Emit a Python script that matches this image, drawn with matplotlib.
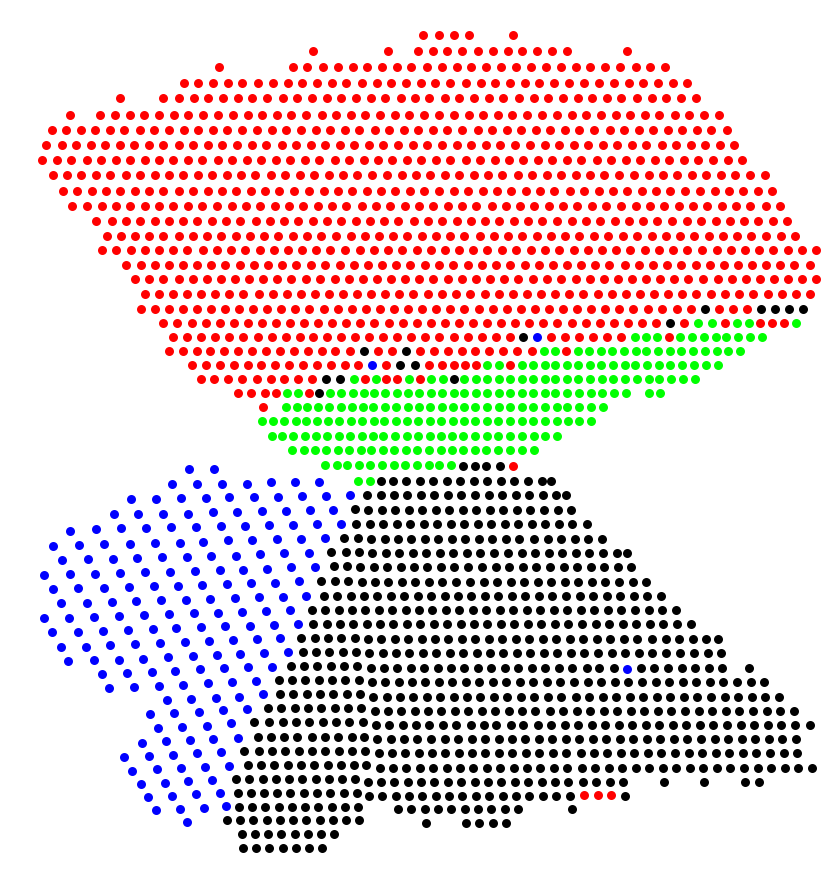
import matplotlib
matplotlib.use('Agg')
import matplotlib.pyplot as plt

# every row is (y, [x values])
red_rows = [
    (35, [423, 439, 454, 469, 513]),
    (51, [313, 388, 418, 433, 447, 462, 478, 493, 508, 522, 537, 552, 567, 627]),
    (67, [219, 293, 307, 323, 338, 353, 367, 382, 397, 411, 427, 442, 457, 471, 486, 501, 516, 531, 546, 561, 576, 590, 605, 620, 636, 650, 665]),
    (83, [184, 198, 213, 228, 242, 258, 273, 288, 302, 317, 332, 346, 362, 377, 391, 406, 421, 435, 450, 466, 481, 495, 510, 525, 539, 554, 569, 584, 599, 614, 629, 643, 658, 673, 687]),
    (98, [120, 163, 179, 194, 208, 223, 238, 252, 267, 283, 297, 312, 327, 341, 356, 371, 385, 401, 415, 429, 445, 459, 474, 489, 503, 519, 534, 548, 563, 578, 592, 607, 621, 637, 652, 666, 681, 696]),
    (115, [70, 100, 115, 130, 144, 159, 174, 188, 203, 218, 233, 248, 262, 277, 291, 306, 322, 336, 351, 365, 380, 395, 409, 424, 439, 454, 469, 483, 498, 512, 527, 542, 557, 572, 586, 601, 616, 630, 645, 659, 675, 689, 704, 719]),
    (130, [52, 66, 81, 95, 110, 124, 140, 154, 169, 184, 198, 213, 227, 242, 257, 272, 286, 301, 316, 330, 345, 359, 375, 389, 404, 418, 433, 447, 462, 478, 492, 507, 521, 536, 550, 565, 579, 594, 610, 624, 639, 653, 668, 682, 697, 711, 727]),
    (145, [46, 62, 76, 91, 105, 120, 134, 149, 163, 179, 193, 208, 222, 237, 252, 266, 282, 296, 311, 325, 340, 354, 369, 383, 398, 413, 427, 442, 457, 471, 486, 500, 515, 530, 545, 559, 574, 588, 603, 617, 632, 646, 662, 676, 691, 705, 720, 734]),
    (160, [42, 57, 71, 87, 101, 116, 130, 145, 159, 173, 188, 202, 218, 232, 247, 261, 276, 290, 305, 319, 335, 349, 364, 378, 392, 407, 421, 436, 450, 466, 480, 495, 509, 523, 538, 552, 567, 581, 597, 611, 626, 640, 655, 669, 684, 698, 713, 728, 742]),
    (175, [53, 67, 81, 96, 110, 126, 140, 155, 169, 183, 198, 212, 227, 241, 255, 271, 285, 300, 314, 329, 343, 357, 372, 387, 402, 416, 430, 445, 459, 474, 488, 502, 518, 532, 547, 561, 576, 590, 604, 619, 634, 649, 663, 677, 692, 706, 721, 735, 750, 765]),
    (191, [63, 77, 92, 106, 120, 135, 149, 163, 179, 193, 208, 222, 236, 251, 265, 279, 294, 309, 324, 338, 352, 367, 381, 395, 410, 424, 439, 454, 468, 483, 497, 511, 526, 540, 554, 570, 584, 599, 613, 627, 642, 656, 670, 685, 700, 715, 729, 743, 758, 772]),
    (206, [72, 87, 102, 116, 130, 145, 159, 173, 188, 202, 217, 232, 246, 260, 275, 289, 303, 318, 332, 346, 362, 376, 390, 405, 419, 433, 448, 462, 476, 492, 506, 520, 534, 549, 563, 577, 592, 606, 621, 636, 650, 664, 679, 693, 707, 722, 736, 750, 766, 780]),
    (221, [96, 112, 126, 140, 155, 169, 183, 197, 212, 226, 240, 256, 270, 284, 298, 313, 327, 341, 356, 370, 384, 398, 414, 428, 442, 457, 471, 485, 499, 514, 528, 542, 557, 572, 586, 600, 615, 629, 643, 657, 672, 687, 701, 716, 730, 744, 758, 773, 787]),
    (236, [107, 121, 135, 149, 163, 179, 193, 207, 221, 236, 250, 264, 278, 293, 307, 321, 336, 351, 365, 379, 393, 407, 422, 436, 450, 464, 480, 494, 508, 522, 537, 551, 565, 579, 594, 608, 623, 637, 652, 666, 680, 694, 709, 723, 737, 751, 766, 781, 795]),
    (250, [102, 116, 131, 145, 159, 173, 187, 203, 217, 231, 245, 260, 274, 288, 302, 316, 330, 345, 360, 374, 388, 402, 417, 431, 445, 459, 473, 487, 502, 516, 531, 545, 559, 574, 588, 602, 616, 630, 645, 659, 673, 687, 702, 717, 731, 745, 759, 773, 788, 802, 816]),
    (265, [126, 141, 155, 169, 183, 197, 211, 225, 240, 254, 268, 282, 296, 311, 325, 340, 354, 368, 382, 396, 410, 425, 439, 453, 468, 482, 496, 510, 525, 539, 553, 567, 581, 595, 609, 625, 639, 653, 667, 681, 696, 710, 724, 738, 752, 766, 780, 794, 810]),
    (279, [135, 149, 163, 179, 193, 207, 221, 235, 249, 263, 277, 291, 306, 320, 335, 349, 363, 377, 391, 405, 419, 433, 448, 462, 476, 490, 504, 518, 533, 547, 561, 576, 590, 604, 618, 632, 646, 660, 674, 688, 703, 718, 732, 746, 760, 774, 788, 802, 816]),
    (294, [145, 159, 173, 187, 201, 215, 229, 243, 259, 273, 287, 301, 315, 329, 343, 357, 371, 385, 399, 413, 428, 442, 456, 470, 485, 499, 513, 527, 541, 555, 569, 583, 598, 612, 626, 640, 654, 668, 682, 696, 711, 725, 739, 753, 768, 782, 796, 810]),
    (309, [141, 155, 169, 183, 197, 211, 225, 239, 253, 267, 281, 295, 309, 324, 338, 352, 366, 380, 394, 408, 422, 436, 450, 464, 479, 493, 507, 521, 535, 549, 563, 577, 591, 605, 619, 633, 648, 662, 677, 691, 719, 733, 747]),
    (323, [163, 177, 192, 206, 220, 234, 248, 262, 276, 290, 304, 318, 332, 346, 360, 374, 389, 403, 417, 431, 445, 459, 473, 487, 501, 515, 529, 543, 557, 572, 586, 600, 614, 628, 642, 656, 684, 725, 760, 772, 784]),
    (337, [173, 187, 201, 215, 229, 243, 258, 272, 286, 300, 313, 327, 341, 355, 369, 383, 397, 411, 425, 439, 454, 468, 482, 496, 510, 551, 565, 579, 593, 607, 621, 669]),
    (351, [169, 183, 197, 210, 224, 238, 252, 266, 280, 294, 308, 322, 335, 350, 378, 392, 420, 434, 448, 462, 475, 489, 503, 517, 532, 566]),
    (365, [192, 206, 220, 234, 248, 261, 275, 289, 303, 317, 331, 345, 358, 386, 429, 442, 454, 465, 476, 510]),
    (379, [201, 214, 228, 242, 257, 271, 284, 298, 312, 365, 386, 397, 420]),
    (393, [238, 251, 265, 276, 309]),
    (407, [263]),
    (466, [513]),
    (795, [584, 598, 611]),
]

green_rows = [
    (323, [698, 712, 737, 749, 796]),
    (337, [635, 646, 657, 680, 692, 704, 716, 726, 738, 750, 762]),
    (351, [544, 555, 578, 589, 601, 612, 624, 636, 646, 658, 670, 681, 693, 705, 717, 728, 740]),
    (365, [487, 499, 522, 533, 545, 555, 567, 578, 590, 601, 613, 625, 635, 647, 659, 670, 682, 694, 706, 718]),
    (379, [354, 376, 409, 431, 443, 464, 476, 487, 499, 510, 522, 533, 545, 555, 567, 578, 590, 602, 613, 625, 637, 649, 659, 671, 683, 695]),
    (393, [287, 298, 330, 341, 353, 364, 374, 385, 397, 408, 419, 431, 442, 454, 464, 476, 487, 499, 510, 522, 533, 545, 555, 567, 579, 591, 602, 614, 626, 649, 660]),
    (407, [286, 297, 307, 318, 329, 341, 352, 363, 373, 385, 396, 408, 419, 430, 442, 453, 464, 475, 487, 499, 510, 522, 533, 545, 557, 567, 579, 591, 603]),
    (421, [262, 273, 284, 296, 306, 317, 328, 339, 351, 362, 374, 384, 396, 407, 418, 430, 441, 453, 464, 475, 487, 498, 510, 522, 533, 545, 557, 568, 579, 591]),
    (436, [272, 282, 293, 305, 316, 327, 339, 350, 362, 373, 383, 395, 407, 418, 430, 441, 452, 463, 475, 487, 498, 510, 522, 534, 545, 557]),
    (450, [292, 304, 315, 326, 338, 349, 361, 371, 383, 394, 406, 417, 429, 441, 452, 463, 475, 486, 498, 510, 522, 534]),
    (465, [325, 337, 347, 359, 370, 382, 394, 405, 417, 429, 439, 451]),
    (481, [358, 370]),
]

blue_rows = [
    (337, [537]),
    (365, [372]),
    (669, [627]),
    (469, [189, 214]),
    (484, [172, 197, 222, 247]),
    (482, [271, 295, 319]),
    (499, [131, 156]),
    (498, [181, 206]),
    (497, [229, 254, 278]),
    (496, [302, 326]),
    (495, [350]),
    (514, [114, 138, 163, 188]),
    (512, [213, 237]),
    (511, [262, 286]),
    (510, [310, 333]),
    (531, [70]),
    (529, [96]),
    (528, [121, 146]),
    (527, [171, 196]),
    (526, [221, 245]),
    (525, [269, 293]),
    (524, [317, 341]),
    (546, [53]),
    (545, [79]),
    (544, [104, 130]),
    (543, [155, 180]),
    (542, [203]),
    (540, [228, 252]),
    (539, [277, 301]),
    (538, [325]),
    (560, [62]),
    (559, [88, 113]),
    (558, [137]),
    (557, [162, 187]),
    (556, [211, 236]),
    (554, [260]),
    (553, [284, 309]),
    (575, [44]),
    (574, [70, 95]),
    (573, [120]),
    (572, [145, 170]),
    (571, [195]),
    (570, [220, 243]),
    (569, [267]),
    (567, [291, 315]),
    (589, [53]),
    (588, [78, 104]),
    (587, [129]),
    (586, [154, 178]),
    (585, [202]),
    (584, [227]),
    (583, [251, 275]),
    (581, [299]),
    (603, [61, 87]),
    (602, [112]),
    (601, [136]),
    (600, [161, 186]),
    (599, [210]),
    (598, [235]),
    (597, [259, 283]),
    (596, [306]),
    (618, [44, 69]),
    (617, [94]),
    (616, [119]),
    (615, [144]),
    (614, [169]),
    (613, [194, 218]),
    (612, [242]),
    (611, [266]),
    (610, [290]),
    (632, [52, 78]),
    (631, [103]),
    (630, [128]),
    (629, [153]),
    (628, [176]),
    (627, [201]),
    (626, [225, 250]),
    (625, [274]),
    (624, [298]),
    (647, [61, 86]),
    (645, [110]),
    (644, [135]),
    (643, [160]),
    (642, [185]),
    (641, [209]),
    (640, [233]),
    (639, [257]),
    (638, [280]),
    (661, [68]),
    (660, [94, 119]),
    (659, [143]),
    (657, [168]),
    (656, [193]),
    (655, [217]),
    (654, [240]),
    (653, [264]),
    (652, [288]),
    (674, [102]),
    (673, [127]),
    (672, [152]),
    (671, [175]),
    (669, [200]),
    (668, [224]),
    (667, [248, 272]),
    (688, [109]),
    (687, [134]),
    (686, [159]),
    (685, [183]),
    (683, [208]),
    (682, [232]),
    (681, [256]),
    (700, [167]),
    (699, [191]),
    (698, [216]),
    (697, [239]),
    (694, [263]),
    (714, [150]),
    (713, [174]),
    (712, [199]),
    (710, [223]),
    (709, [247]),
    (728, [158]),
    (727, [182]),
    (726, [207]),
    (723, [231]),
    (743, [142]),
    (741, [166]),
    (740, [190]),
    (739, [213]),
    (738, [238]),
    (757, [124]),
    (756, [149]),
    (755, [173]),
    (753, [197]),
    (752, [221]),
    (771, [132]),
    (769, [157]),
    (768, [181]),
    (767, [205]),
    (766, [229]),
    (784, [141]),
    (783, [165]),
    (781, [188]),
    (780, [212]),
    (797, [148]),
    (796, [172]),
    (794, [196]),
    (793, [220]),
    (810, [156]),
    (809, [180]),
    (808, [204]),
    (806, [226]),
    (822, [187]),
]

black_rows = [
    (309, [705, 761, 775, 789, 803]),
    (323, [670]),
    (337, [523]),
    (351, [364, 406]),
    (365, [400, 415]),
    (379, [326, 340, 454]),
    (393, [319]),
    (466, [463, 475, 486, 500]),
    (481, [381, 393, 406, 420, 433, 447, 460, 474, 487, 501, 514, 528, 542, 551]),
    (495, [367, 381, 394, 407, 421, 434, 448, 461, 475, 489, 502, 516, 529, 543, 556, 566]),
    (509, [355]),
    (510, [368, 382, 395, 409, 422, 436, 449, 463, 476, 490, 503, 517, 530, 544, 558, 571]),
    (524, [356, 370, 383, 397, 410, 424, 437, 451, 464, 478, 491, 505, 518, 532, 545, 559, 572, 587]),
    (538, [344, 358]),
    (539, [371, 385, 398, 411, 425, 438, 452, 465, 479, 492, 506, 519, 534, 548, 561, 575, 588, 602]),
    (552, [331, 346, 359]),
    (553, [372, 386, 399, 413, 426, 440, 453, 467, 480, 494, 508, 522, 535, 549, 562, 576, 589, 603, 617, 627]),
    (566, [334, 347]),
    (567, [360, 374, 387, 401, 414, 427, 441, 454, 468, 482, 496, 509, 523, 536, 550, 564, 577, 591, 604, 618, 631]),
    (581, [321, 335, 348]),
    (582, [362, 375, 388, 402, 415, 429, 442, 456, 470, 484, 497, 511, 524, 538, 551, 565, 578, 592, 605, 619, 633, 646]),
    (596, [324, 337, 351, 364, 377, 391, 404, 418, 431, 445, 458, 471, 485, 498, 512, 525, 539, 552, 566, 580, 593, 607, 620, 634, 647, 661]),
    (610, [312, 325, 339, 352, 365, 379, 392, 406, 419, 432, 446, 459, 473, 486, 500, 513, 527, 540, 554, 567, 581, 594, 608, 621, 635, 649, 662, 676]),
    (624, [313, 327, 340, 353, 367, 380, 393, 407, 420, 434, 447, 461, 474, 487, 501, 514, 528, 541, 555, 568, 582, 596, 609, 623, 636, 650, 663, 677, 691]),
    (638, [301, 315, 328, 341, 355]),
    (639, [368, 381, 395, 408, 422, 435, 448, 462, 475, 489, 502, 516, 529, 543, 556, 570, 583, 597, 610, 624, 637, 652, 666, 679, 693, 706, 718]),
    (652, [303, 316, 329, 343, 356]),
    (653, [369, 383, 396, 409, 423, 436, 450, 463, 477, 490, 503, 517, 530, 544, 557, 571, 584, 598, 612, 625, 639, 652, 666, 680, 694, 708, 721]),
    (666, [291, 304, 317, 331, 344, 357]),
    (668, [371, 384, 397, 411, 424, 438, 451, 464, 478, 491, 505, 518, 532, 545, 559, 572, 587, 599, 614, 641, 654, 668, 682, 695, 709, 722, 749]),
    (680, [279, 292, 305, 319, 332, 345, 359]),
    (682, [372, 385, 399, 412, 425, 439, 452, 466, 479, 493, 506, 520, 533, 547, 560, 574, 588, 601, 615, 628, 642, 656, 669, 683, 696, 710, 723, 737, 751, 764]),
    (694, [280, 293, 307, 320, 333, 347, 360]),
    (697, [373, 387, 400, 413, 427, 440, 454, 467, 480, 494, 507, 521, 534, 548, 561, 576, 589, 603, 616, 630, 643, 657, 670, 684, 697, 711, 725, 738, 752, 765, 779]),
    (708, [268, 281, 295, 308, 321, 335, 348, 361]),
    (711, [375, 388, 401, 415, 428, 441, 455, 468, 482, 495, 509, 522, 535, 550, 563, 577, 590, 604, 617, 631, 644, 658, 671, 685, 699, 712, 726, 739, 753, 767, 780, 794]),
    (722, [254, 269, 283, 296, 309, 323, 336, 349, 363]),
    (725, [376, 389, 403, 416, 429, 443, 456, 471, 484, 496, 511, 523, 538, 551, 565, 578, 592, 605, 619, 632, 646, 659, 673, 686, 700, 713, 727, 741, 754, 768, 781, 795, 810]),
    (737, [258, 271, 284, 297, 312, 325, 338, 352, 364]),
    (739, [377, 391, 404, 417, 431, 445, 458, 472, 485, 499, 512, 525, 539, 552, 566, 579, 593, 606, 620, 633, 647, 660, 674, 687, 701, 715, 728, 742, 755, 769, 782, 796]),
    (751, [244, 259, 272, 285, 299, 312, 325, 339, 352, 365]),
    (753, [379, 392, 405, 419, 432, 445, 459, 472, 485, 499, 512, 526, 539, 553, 566, 581, 594, 607, 621, 634, 648, 661, 675, 689, 702, 716, 729, 743, 756, 770, 784, 797]),
    (765, [248, 261, 274, 288, 301, 314, 328, 341, 354, 366]),
    (768, [380, 393, 406, 420, 433, 447, 460, 473, 487, 500, 514, 527, 540, 554, 567, 582, 595, 609, 622, 636, 649, 663, 676, 690, 703, 717, 730, 744, 758, 771, 785, 798, 812]),
    (779, [236, 249, 263, 276, 289, 302, 316, 329, 342, 355]),
    (782, [368, 381, 394, 408, 421, 434, 448, 461, 475, 488, 501, 515, 528, 542, 555, 568, 583, 596, 610, 623, 664, 704, 745, 759]),
    (793, [238, 251, 264, 277, 290, 304, 317, 330, 344, 357]),
    (796, [369, 382, 396, 409, 422, 436, 449, 462, 476, 489, 503, 516, 529, 543, 556, 570, 625]),
    (807, [239, 252, 265, 279, 292, 305, 318, 332, 345, 358]),
    (809, [398, 411, 425, 438, 451, 465, 478, 491, 505, 518, 572]),
    (820, [227, 240, 253, 267, 280, 293, 306, 320, 333, 346, 359]),
    (823, [426, 466, 479, 493, 506]),
    (834, [242, 255, 268, 281, 295, 308, 321, 334]),
    (848, [243, 256, 269, 283, 296, 309, 322]),
]

series = [(red_rows, '#ff0000'), (green_rows, '#00ff00'), (blue_rows, '#0000ff'), (black_rows, '#000000')]

fig = plt.figure(figsize=(8.3, 8.81), dpi=100)
ax = fig.add_axes([0, 0, 1, 1])

for rows, color in series:
    xs = []
    ys = []
    for y, row in rows:
        xs += row
        ys += [y] * len(row)
    ax.scatter(xs, ys, s=42, c=color, linewidths=0)

ax.set_xlim(0, 830)
ax.set_ylim(881, 0)
ax.axis('off')

plt.savefig('out.png')
